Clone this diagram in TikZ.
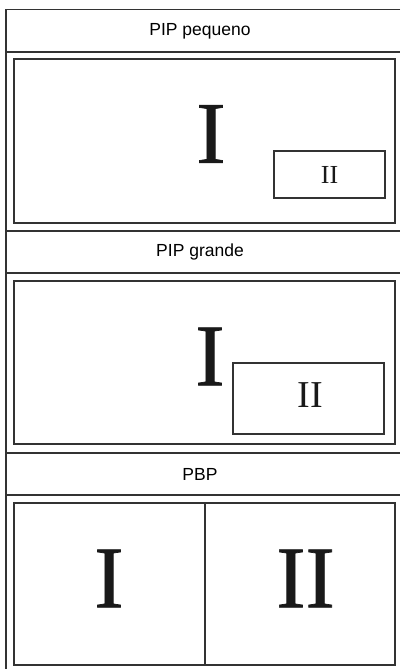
\documentclass[tikz,border=0pt]{standalone}
\usepackage{fontspec}
\setmainfont{Liberation Serif}
\newfontfamily\romanfont[FakeBold=0.8]{Liberation Serif}
\newfontfamily\titlefont{Liberation Sans}
\begin{document}
\begin{tikzpicture}[x=1pt,y=-1pt,
  frameline/.style={draw=black!80,line width=1.6pt},
  boxline/.style={draw=black!80,line width=1.4pt},
  titletext/.style={font=\titlefont\fontsize{17.5}{20}\selectfont,inner sep=0pt},
  bigroman/.style={font=\romanfont\fontsize{88}{90}\selectfont,inner sep=0pt,text=black!90},
  midroman/.style={font=\rmfamily\fontsize{38}{40}\selectfont,inner sep=0pt,text=black!90},
  smallroman/.style={font=\rmfamily\fontsize{26}{28}\selectfont,inner sep=0pt,text=black!90}]
\useasboundingbox (0,0) rectangle (400,669);
% outer frame
\coordinate (tl) at (6,9.5);
\coordinate (tr) at (400,9.5);
\coordinate (bl) at (6,669);
\draw[frameline] (tr) -- (tl) -- (bl);
\foreach \y in {52,231,273,453,495} {\draw[frameline] (6,\y) -- (400,\y);}
% titles
\node[titletext] (t1) at (200,31) {PIP pequeno};
\node[titletext] (t2) at (200,252) {PIP grande};
\node[titletext] (t3) at (200,474) {PBP};
% panel 1
\draw[boxline] (14,59) rectangle (395,223);
\node[bigroman] (p1a) at (211,134) {I};
\node[draw=black!80,line width=1.3pt,minimum width=111pt,minimum height=47pt,inner sep=0pt] (p1box) at (329.5,174.5) {};
\node[smallroman] (p1b) at (p1box.center) {II};
% panel 2
\draw[boxline] (14,281) rectangle (395,444);
\node[bigroman] (p2a) at (210,356.5) {I};
\node[draw=black!80,line width=1.4pt,minimum width=151pt,minimum height=71pt,inner sep=0pt] (p2box) at (308.5,398.5) {};
\node[midroman] (p2b) at (310,395.5) {II};
% panel 3
\draw[boxline] (14,503) rectangle (395,665);
\coordinate (dtop) at (205,503);
\coordinate (dbot) at (205,665);
\draw[boxline] (dtop) -- (dbot);
\node[bigroman] (p3a) at (109,578.5) {I};
\node[bigroman] (p3b) at (305.5,578.5) {II};
\end{tikzpicture}
\end{document}
